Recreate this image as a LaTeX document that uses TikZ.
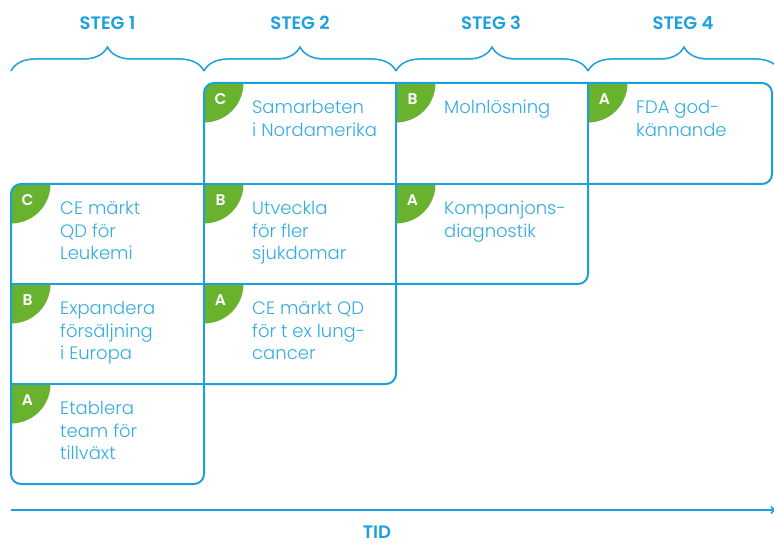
\documentclass[tikz,border=0pt]{standalone}
\usepackage{fontspec}
\setmainfont{Poppins}[UprightFont=* Light, BoldFont=* SemiBold]
\usetikzlibrary{decorations.pathreplacing,arrows.meta}
\definecolor{lineblue}{HTML}{1BA0DC}
\definecolor{textblue}{HTML}{33ACE2}
\definecolor{badgegreen}{HTML}{68B22E}
\newcommand\mybadge[5]{%
  \begin{scope}
    \clip[#5] (#1,#2) rectangle ++(60,60);
    \fill[badgegreen] (#1,#2) circle[radius=39.5];
  \end{scope}
  \node[badgeletter] (#4) at (#1+16.5,#2+16) {#3};
}
\begin{document}
\begin{tikzpicture}[x=1pt,y=-1pt,
  gridline/.style={draw=lineblue, line width=2pt, line cap=round, line join=round},
  outerline/.style={gridline, rounded corners=10pt},
  celltext/.style={anchor=north west, inner sep=0pt, align=left, text=textblue,
    font=\fontsize{18}{22.5}\selectfont},
  badgeletter/.style={text=white, inner sep=0pt, font=\bfseries\fontsize{15.5}{15.5}\selectfont},
  steglabel/.style={text=lineblue, anchor=base, inner sep=0pt, font=\bfseries\fontsize{18}{18}\selectfont},
  bracestyle/.style={draw=lineblue, line width=1.5pt, decorate, decoration={brace, amplitude=24pt}},
  roundtl/.style={rounded corners=10pt},
  squaretl/.style={sharp corners}]
\useasboundingbox (0,0) rectangle (774,545);

% headers with braces
\node[steglabel] (s1) at (107.5,30) {STEG 1};
\node[steglabel] (s2) at (300,30) {STEG 2};
\node[steglabel] (s3) at (491,30) {STEG 3};
\node[steglabel] (s4) at (683,30) {STEG 4};
\draw[bracestyle] (11,71) -- (204,71);
\draw[bracestyle] (204,71) -- (396,71);
\draw[bracestyle] (396,71) -- (588,71);
\draw[bracestyle] (588,71) -- (780,71);

% badges
\mybadge{204}{83}{C}{b1}{roundtl}
\mybadge{396}{83}{B}{b2}{squaretl}
\mybadge{588}{83}{A}{b3}{squaretl}
\mybadge{11}{184}{C}{b4}{roundtl}
\mybadge{204}{184}{B}{b5}{squaretl}
\mybadge{396}{184}{A}{b6}{squaretl}
\mybadge{11}{284}{B}{b7}{squaretl}
\mybadge{204}{284}{A}{b8}{squaretl}
\mybadge{11}{384}{A}{b9}{squaretl}

% outline
\draw[outerline] (204,184) -- (204,83) -- (772,83) -- (772,184) -- (588,184);
\draw[outerline] (588,184) -- (588,284) -- (396,284);
\draw[outerline] (396,284) -- (396,384) -- (204,384);
\draw[outerline] (204,384) -- (204,484) -- (11,484) -- (11,184) -- (204,184);
% inner grid lines
\draw[gridline] (204,184) -- (588,184);
\draw[gridline] (11,284) -- (396,284);
\draw[gridline] (11,384) -- (204,384);
\draw[gridline] (204,184) -- (204,384);
\draw[gridline] (396,83) -- (396,284);
\draw[gridline] (588,83) -- (588,184);

% texts
\node[celltext] (t1) at (252,100) {Samarbeten\\i Nordamerika};
\node[celltext] (t2) at (444,100) {Molnlösning};
\node[celltext] (t3) at (636,100) {FDA god-\\kännande};
\node[celltext] (t4) at (60,201) {CE märkt\\QD för\\Leukemi};
\node[celltext] (t5) at (252,201) {Utveckla\\för fler\\sjukdomar};
\node[celltext] (t6) at (444,201) {Kompanjons-\\diagnostik};
\node[celltext] (t7) at (60,301) {Expandera\\försäljning\\i Europa};
\node[celltext] (t8) at (252,301) {CE märkt QD\\för t ex lung-\\cancer};
\node[celltext] (t9) at (60,401) {Etablera\\team för\\tillväxt};

% time axis
\coordinate (tstart) at (11,510);
\coordinate (tend) at (775,510);
\draw[draw=lineblue, line width=1.5pt, -{Straight Barb[length=3pt,width=7pt]}] (tstart) -- (tend);
\node[steglabel] (tid) at (377,538) {TID};
\end{tikzpicture}
\end{document}
